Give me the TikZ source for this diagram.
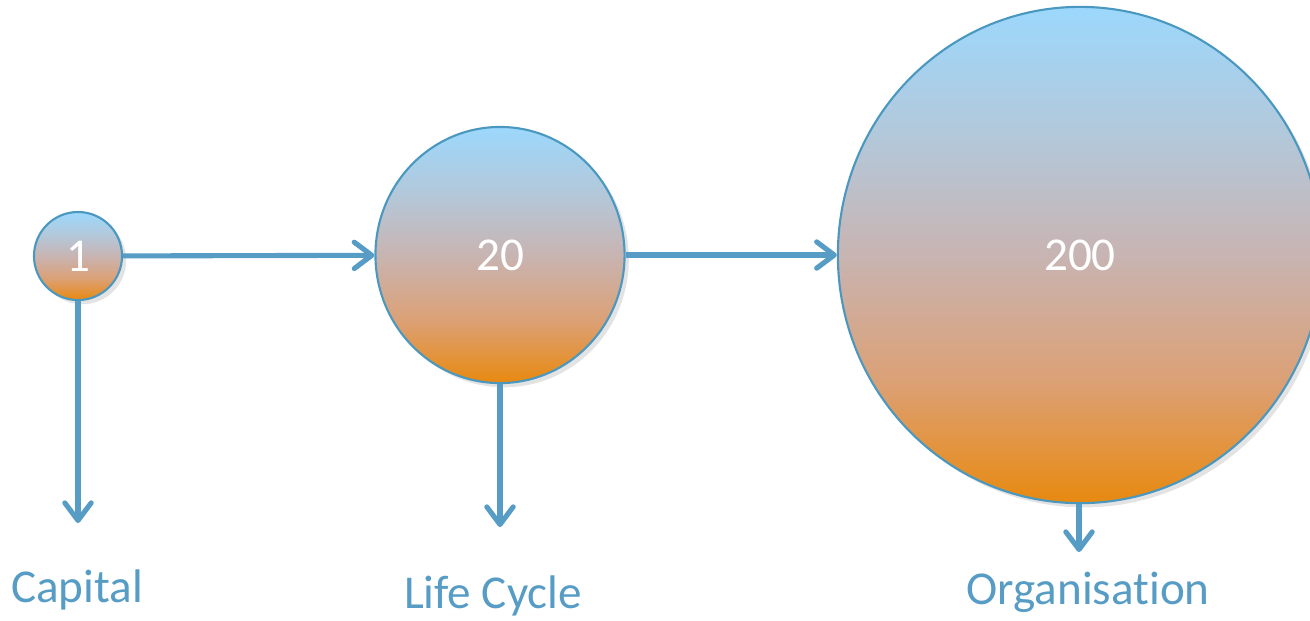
\documentclass[tikz,border=0pt]{standalone}
\usepackage{fontspec}
\setmainfont{Carlito}[Ligatures=NoCommon]
\usepackage{tikz}
\usetikzlibrary{arrows.meta, shapes.geometric, shadows}

\definecolor{edgeblue}{HTML}{4A98C0}
\definecolor{flowblue}{HTML}{569CC4}
\definecolor{skyblue}{HTML}{9CD8FC}
\definecolor{fadeblue}{HTML}{B3C8DA}
\definecolor{midgrey}{HTML}{C8B4B2}
\definecolor{salmon}{HTML}{DCA074}
\definecolor{amber}{HTML}{E8890F}

% Verlauf von oben (blau) nach unten (orange)
\pgfdeclareverticalshading{bubbleshade}{100bp}{color(0bp)=(amber); color(25bp)=(amber);
    color(37bp)=(salmon); color(50bp)=(midgrey); color(62bp)=(fadeblue);
    color(75bp)=(skyblue); color(100bp)=(skyblue)}

\begin{document}
\begin{tikzpicture}[x=0.01cm, y=-0.01cm, >={Straight Barb[length=5pt, width=7.5pt, round]},
    bubble/.style={ellipse, draw=edgeblue, line width=0.6pt, inner sep=0pt,
        shading=bubbleshade,
        drop shadow={opacity=0.22, shadow xshift=1.2pt, shadow yshift=-1.2pt},
        text=white, font=\fontsize{13.4}{16}\selectfont},
    flow/.style={->, flowblue, line width=1.45pt},
    lbl/.style={text=flowblue, font=\fontsize{13.4}{16}\selectfont}]
    \useasboundingbox (0,0) rectangle (1310,620);

    % Kreise
    \node[bubble, minimum width=0.88cm, minimum height=0.88cm] (one) at (78,256) {1};
    \node[bubble, minimum width=2.49cm, minimum height=2.56cm] (twenty) at (500,255) {20};
    \node[bubble, minimum width=4.84cm, minimum height=4.96cm] (twohundred) at (1080,255) {200};

    % Beschriftungen unten
    \node[lbl] (capital) at (77,590) {Capital};
    \node[lbl] (lifecycle) at (493,596) {Life Cycle};
    \node[lbl] (organisation) at (1088,592) {Organisation};
    \coordinate (capitalend) at (78,523);
    \coordinate (lifecycleend) at (500,527);
    \coordinate (organisationend) at (1079,552);

    % Pfeile
    \draw[flow] (one) -- (twenty);
    \draw[flow] (twenty) -- (twohundred);
    \draw[flow] (one.south) -- (capitalend);
    \draw[flow] (twenty.south) -- (lifecycleend);
    \draw[flow] (twohundred.south -| organisationend) -- (organisationend);
\end{tikzpicture}
\end{document}
